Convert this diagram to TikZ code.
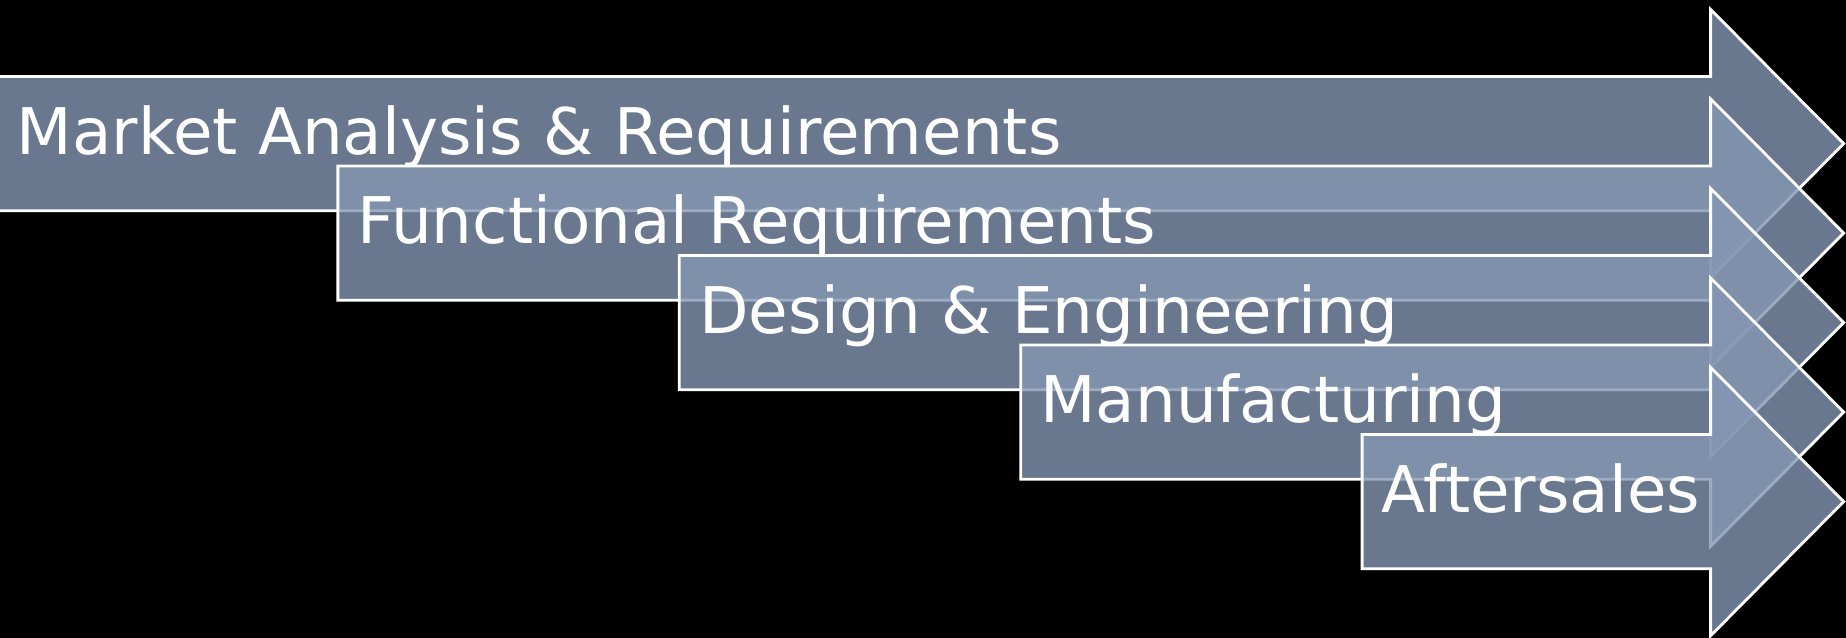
\documentclass[tikz,border=0pt]{standalone}
\usepackage{fontspec}
\setmainfont{DejaVu Sans}
\usepackage{tikz}

\definecolor{stagefill}{RGB}{133,151,179}

\begin{document}
\begin{tikzpicture}[stage/.style={fill=stagefill, fill opacity=0.8, draw=white, line width=0.8pt, line join=miter},
  stagelabel/.style={anchor=base west, inner sep=0pt, text=white, font=\fontsize{18.3pt}{22pt}\selectfont}]
\fill[black] (0,0) rectangle (18.46,6.38);
\useasboundingbox (0,0) rectangle (18.46,6.38);
% market analysis
\draw[stage] (-0.05,5.615) -- (17.106,5.615) -- (17.106,6.286) -- (18.437,4.944) -- (17.106,3.602) -- (17.106,4.273) -- (-0.05,4.273) -- cycle;
\node[stagelabel] (market) at (0.16,4.838) {Market Analysis \& Requirements};
% functional requirements
\draw[stage] (3.379,4.720) -- (17.106,4.720) -- (17.106,5.391) -- (18.437,4.049) -- (17.106,2.707) -- (17.106,3.378) -- (3.379,3.378) -- cycle;
\node[stagelabel] (functional) at (3.569,3.943) {Functional Requirements};
% design
\draw[stage] (6.793,3.825) -- (17.106,3.825) -- (17.106,4.496) -- (18.437,3.154) -- (17.106,1.812) -- (17.106,2.483) -- (6.793,2.483) -- cycle;
\node[stagelabel] (design) at (6.983,3.048) {Design \& Engineering};
% manufacturing
\draw[stage] (10.207,2.930) -- (17.106,2.930) -- (17.106,3.601) -- (18.437,2.259) -- (17.106,0.917) -- (17.106,1.588) -- (10.207,1.588) -- cycle;
\node[stagelabel] (manufacturing) at (10.397,2.153) {Manufacturing};
% aftersales
\draw[stage] (13.621,2.035) -- (17.106,2.035) -- (17.106,2.706) -- (18.437,1.364) -- (17.106,0.022) -- (17.106,0.693) -- (13.621,0.693) -- cycle;
\node[stagelabel] (aftersales) at (13.811,1.258) {Aftersales};
\end{tikzpicture}
\end{document}
